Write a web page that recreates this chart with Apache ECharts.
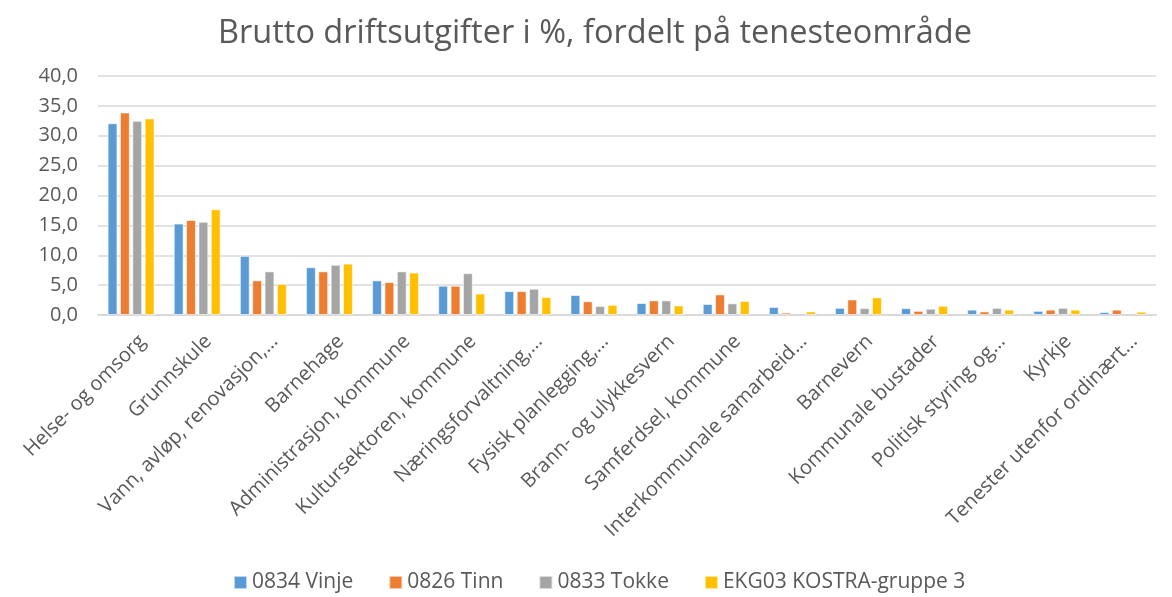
<!DOCTYPE html>
<html>
<head>
<meta charset="utf-8">
<script src="https://cdn.jsdelivr.net/npm/echarts@6/dist/echarts.min.js"></script>
<style>
  html, body { margin: 0; padding: 0; background: #fff; }
  #main { width: 1172px; height: 597px; }
</style>
</head>
<body>
<div id="main"></div>
<script>
const categories = [
  'Helse- og omsorg', 'Grunnskule', 'Vann, avløp, renovasjon,…', 'Barnehage',
  'Administrasjon, kommune', 'Kultursektoren, kommune', 'Næringsforvaltning,…',
  'Fysisk planlegging,…', 'Brann- og ulykkesvern', 'Samferdsel, kommune',
  'Interkommunale samarbeid…', 'Barnevern', 'Kommunale bustader',
  'Politisk styring og…', 'Kyrkje', 'Tenester utenfor ordinært…'
];
const vinje = [32.1, 15.3, 9.9, 8.0, 5.8, 4.9, 4.0, 3.35, 2.0, 1.85, 1.35, 1.2, 1.15, 0.9, 0.7, 0.5];
const tinn = [33.9, 15.9, 5.8, 7.3, 5.5, 4.9, 4.0, 2.3, 2.45, 3.45, 0.4, 2.6, 0.7, 0.6, 0.9, 0.9];
const tokke = [32.5, 15.6, 7.3, 8.4, 7.3, 7.0, 4.4, 1.5, 2.45, 1.95, null, 1.15, 1.05, 1.2, 1.2, null];
const kostra = [32.9, 17.7, 5.2, 8.6, 7.1, 3.6, 3.0, 1.7, 1.6, 2.35, 0.6, 2.95, 1.55, 0.9, 0.9, 0.55];

const seriesNames = ['0834 Vinje', '0826 Tinn', '0833 Tokke', 'EKG03 KOSTRA-gruppe 3'];
const seriesData = [vinje, tinn, tokke, kostra];
const colors = ['#5b9bd5', '#ed7d31', '#a5a5a5', '#ffc000'];

const chart = echarts.init(document.getElementById('main'));

const option = {
  color: colors,
  title: {
    text: 'Brutto driftsutgifter i %, fordelt på tenesteområde',
    left: 213,
    top: 12,
    textStyle: {
      fontFamily: 'Open Sans',
      fontWeight: 'normal',
      fontSize: 32.5,
      color: '#595959'
    }
  },
  legend: {
    bottom: -1,
    left: 228,
    itemWidth: 13,
    itemHeight: 13,
    itemGap: 35,
    icon: 'rect',
    textStyle: { fontFamily: 'Open Sans', fontSize: 21, color: '#595959' },
    data: seriesNames
  },
  grid: { left: 98, right: 16, top: 76, bottom: 282, containLabel: false },
  xAxis: {
    type: 'category',
    data: categories,
    axisLine: { lineStyle: { color: '#d9d9d9', width: 2 } },
    axisTick: { show: false },
    axisLabel: {
      rotate: 45,
      interval: 0,
      margin: 12,
      verticalAlign: 'top',
      padding: [6, 0, 0, 0],
      fontFamily: 'Open Sans',
      fontSize: 20,
      color: '#595959'
    }
  },
  yAxis: {
    type: 'value',
    min: 0,
    max: 40,
    interval: 5,
    axisLine: { show: false },
    axisTick: { show: false },
    splitLine: { lineStyle: { color: '#d9d9d9', width: 1.5 } },
    axisLabel: {
      margin: 20,
      fontFamily: 'Open Sans',
      fontSize: 20,
      color: '#595959',
      formatter: v => v.toFixed(1).replace('.', ',')
    }
  },
  series: seriesData.map((d, i) => ({
    name: seriesNames[i],
    type: 'bar',
    data: d,
    barGap: '25%',
    barCategoryGap: '29%',
    itemStyle: { borderColor: 'rgba(255,255,255,0.6)', borderWidth: 1 }
  }))
};

chart.setOption(option);
</script>
</body>
</html>
